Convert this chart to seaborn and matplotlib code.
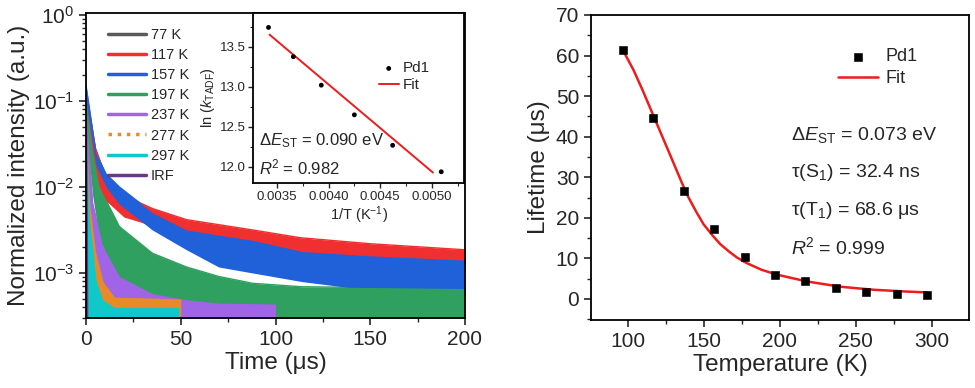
import numpy as np
import pandas as pd
import matplotlib
matplotlib.use("Agg")
import matplotlib.pyplot as plt
import seaborn as sns
from matplotlib.ticker import MultipleLocator, LogLocator, NullFormatter, FormatStrFormatter

# ---- data ----
# left panel: decay bands, log10(intensity) upper / lower envelopes vs time (us)
FLOOR = -3.7
decay_labels = ["77 K", "117 K", "157 K", "197 K", "237 K", "277 K", "297 K", "IRF"]
decay_colors = ["#5a5a5a", "#f03030", "#2060d8", "#30a060", "#a064e6", "#e88a28", "#10c8c8", "#6a3a8a"]

t_77 = [0, 5, 10, 20, 35, 53, 88, 113, 150, 200]
up_77 = [-0.92, -1.58, -1.88, -2.12, -2.28, -2.41, -2.53, -2.62, -2.68, -2.75]
lo_77 = [-1.1, -1.85, -2.1, -2.3, -2.45, -2.6, -2.7, -2.8, -2.85, -2.9]

t_117 = [0, 5, 10, 20, 35, 53, 88, 113, 150, 200]
up_117 = [-0.9, -1.55, -1.85, -2.1, -2.25, -2.38, -2.5, -2.59, -2.66, -2.73]
lo_117 = [-1.15, -1.9, -2.15, -2.35, -2.45, -2.6, -2.7, -2.8, -2.86, -2.9]

t_157 = [0, 5.3, 10.6, 17.6, 35, 53, 70, 88, 114, 150, 200]
up_157 = [-0.82, -1.61, -1.85, -2.0, -2.3, -2.5, -2.56, -2.62, -2.75, -2.8, -2.85]
lo_157 = [-1.0, -1.75, -2.0, -2.2, -2.5, -2.73, -2.93, -3.0, -3.1, -3.2, -3.25]

t_197 = [0, 3.5, 7, 17.6, 35, 53, 70, 88, 114, 200]
up_197 = [-1.0, -1.6, -2.0, -2.46, -2.77, -2.93, -3.04, -3.12, -3.16, -3.18]
lo_197 = [-1.3, -2.1, -2.6, -3.1, FLOOR, FLOOR, FLOOR, FLOOR, FLOOR, FLOOR]

t_237 = [0, 3.5, 8.8, 17.6, 35, 53, 70, 100]
up_237 = [-1.1, -2.19, -2.69, -3.04, -3.24, -3.31, -3.35, -3.36]

t_277 = [0, 2, 5, 9, 15, 50]
up_277 = [-1.3, -2.2, -2.75, -3.1, -3.28, -3.3]

t_297 = [0, 1.8, 5.3, 8.8, 15, 49]
up_297 = [-1.3, -2.38, -3.08, -3.31, -3.4, -3.4]

t_irf = [0, 0.5, 1.0]
up_irf = [FLOOR, -1.0, FLOOR]

# inset: ln(k_TADF) vs 1/T
inv_T = [0.00342, 0.00366, 0.00393, 0.00425, 0.00462, 0.00509]
ln_k = [13.74, 13.375, 13.02, 12.65, 12.27, 11.94]
fit_inv_T = [0.00343, 0.00501]
fit_ln_k = [13.65, 11.93]

# right panel: lifetime vs temperature
temps = [97, 117, 137, 157, 177, 197, 217, 237, 257, 277, 297]
lifetimes = [61.4, 44.5, 26.6, 17.3, 10.35, 5.9, 4.3, 2.6, 1.6, 1.15, 0.9]
fit_T = [97, 104, 110, 117, 127, 136, 140, 145, 150, 156, 161, 167, 172, 178, 188, 198,
         218, 240, 262, 284, 297]
fit_tau = [61.3, 56.4, 51.4, 45.2, 36.4, 28.4, 25.1, 21.6, 18.4, 15.6, 13.5, 11.6, 10.2, 8.9,
           7.2, 6.0, 4.3, 3.0, 2.25, 1.8, 1.6]

# ---- style ----
sns.set_style("ticks")
plt.rcParams["font.family"] = ["Liberation Sans", "DejaVu Sans"]
plt.rcParams["mathtext.fontset"] = "custom"
plt.rcParams["mathtext.rm"] = "Liberation Sans"
plt.rcParams["mathtext.it"] = "Liberation Sans:italic"
plt.rcParams["axes.linewidth"] = 1.3
plt.rcParams["axes.edgecolor"] = "black"
plt.rcParams["xtick.direction"] = "out"
plt.rcParams["ytick.direction"] = "out"

fig = plt.figure(figsize=(9.75, 3.88), dpi=100)
ax1 = fig.add_axes([86 / 975, 1 - 318 / 388, 379 / 975, 305 / 388])
axin = fig.add_axes([253 / 975, 1 - 183 / 388, 211 / 975, 170 / 388])
ax2 = fig.add_axes([591 / 975, 1 - 320 / 388, 378 / 975, 305 / 388])

# ---- left panel ----
series = [
    (t_77, up_77, lo_77),
    (t_117, up_117, lo_117),
    (t_157, up_157, lo_157),
    (t_197, up_197, lo_197),
    (t_237, up_237, None),
    (t_277, up_277, None),
    (t_297, up_297, None),
    (t_irf, up_irf, None),
]
rows = []
for lab, (t, up, lo) in zip(decay_labels, series):
    for ti, ui in zip(t, up):
        rows.append({"t": ti, "I": 10 ** ui, "label": lab})
df_decay = pd.DataFrame(rows)
sns.lineplot(data=df_decay, x="t", y="I", hue="label", hue_order=decay_labels,
             palette=decay_colors, estimator=None, sort=False, lw=1.0, ax=ax1, zorder=1)
for col, (t, up, lo) in zip(decay_colors, series):
    lower = np.power(10.0, lo) if lo is not None else np.full(len(t), 10 ** FLOOR)
    ax1.fill_between(t, lower, np.power(10.0, up), color=col, lw=0, zorder=1.5)

ax1.set_yscale("log")
ax1.set_xlim(0, 200)
ax1.set_ylim(3e-4, 1.05)
ax1.xaxis.set_major_locator(MultipleLocator(50))
ax1.xaxis.set_minor_locator(MultipleLocator(25))
ax1.yaxis.set_minor_locator(LogLocator(subs=np.arange(2, 10)))
ax1.yaxis.set_minor_formatter(NullFormatter())
ax1.tick_params(labelsize=15, length=5, width=1.2)
ax1.tick_params(which="minor", length=3, width=1)
ax1.set_xlabel("Time (μs)", fontsize=17.5, labelpad=2)
ax1.set_ylabel("Normalized intensity (a.u.)", fontsize=17.5, labelpad=2)
handles, labels = ax1.get_legend_handles_labels()
for h in handles:
    h.set_linewidth(2.5)
handles[5].set_linestyle(":")
leg = ax1.legend(handles, labels, loc="upper left", bbox_to_anchor=(0.04, 0.975),
                 frameon=False, fontsize=10.5, handlelength=2.6, handletextpad=0.3,
                 labelspacing=0.42, borderpad=0)

# ---- inset ----
axin.set_facecolor("white")
sns.scatterplot(x=inv_T, y=ln_k, color="black", s=12, marker="o", edgecolor="none",
                label="Pd1", ax=axin, zorder=3)
sns.lineplot(x=fit_inv_T, y=fit_ln_k, color="#ee1c1c", lw=1.4, label="Fit", ax=axin)
axin.set_xlim(0.00327, 0.00531)
axin.set_ylim(11.80, 13.92)
axin.xaxis.set_major_locator(MultipleLocator(0.0005))
axin.xaxis.set_minor_locator(MultipleLocator(0.00025))
axin.yaxis.set_major_locator(MultipleLocator(0.5))
axin.yaxis.set_minor_locator(MultipleLocator(0.25))
axin.xaxis.set_major_formatter(FormatStrFormatter("%.4f"))
axin.tick_params(labelsize=9.5, length=3.5, width=1, pad=2)
axin.tick_params(which="minor", length=2, width=0.8)
axin.set_xlabel("1/T (K$^{-1}$)", fontsize=10.5, labelpad=1)
axin.set_ylabel("ln ($\\it{k}$$_{\\rm TADF}$)", fontsize=10.5, labelpad=2)
axin.legend(loc="upper left", bbox_to_anchor=(0.56, 0.76), frameon=False, fontsize=11,
            handlelength=1.3, handletextpad=0.3, labelspacing=0.2, borderpad=0,
            markerscale=1.0)
axin.text(0.03, 0.247, "Δ$\\it{E}$$_{\\rm ST}$ = 0.090 eV", transform=axin.transAxes,
          fontsize=12, va="center")
axin.text(0.03, 0.094, "$\\it{R}$$^{2}$ = 0.982", transform=axin.transAxes,
          fontsize=12, va="center")

# ---- right panel ----
sns.scatterplot(x=temps, y=lifetimes, color="black", marker="s", s=28, edgecolor="black",
                label="Pd1", ax=ax2, zorder=3)
sns.lineplot(x=fit_T, y=fit_tau, color="#ee1c1c", lw=1.8, label="Fit", ax=ax2)
ax2.set_xlim(76, 324.5)
ax2.set_ylim(-5.2, 70)
ax2.xaxis.set_major_locator(MultipleLocator(50))
ax2.xaxis.set_minor_locator(MultipleLocator(25))
ax2.yaxis.set_major_locator(MultipleLocator(10))
ax2.yaxis.set_minor_locator(MultipleLocator(5))
ax2.tick_params(labelsize=15, length=5, width=1.2)
ax2.tick_params(which="minor", length=3, width=1)
ax2.set_xlabel("Temperature (K)", fontsize=17.5, labelpad=2)
ax2.set_ylabel("Lifetime (μs)", fontsize=17.5, labelpad=4)
ax2.legend(loc="upper left", bbox_to_anchor=(0.63, 0.92), frameon=False, fontsize=13,
           handlelength=2.2, handletextpad=0.4, labelspacing=0.25, borderpad=0)
for yy, txt in [(0.607, "Δ$\\it{E}$$_{\\rm ST}$ = 0.073 eV"),
                (0.485, "τ(S$_{1}$) = 32.4 ns"),
                (0.36, "τ(T$_{1}$) = 68.6 μs"),
                (0.24, "$\\it{R}$$^{2}$ = 0.999")]:
    ax2.text(0.53, yy, txt, transform=ax2.transAxes, fontsize=14, va="center")

fig.savefig("out.png", dpi=100)
